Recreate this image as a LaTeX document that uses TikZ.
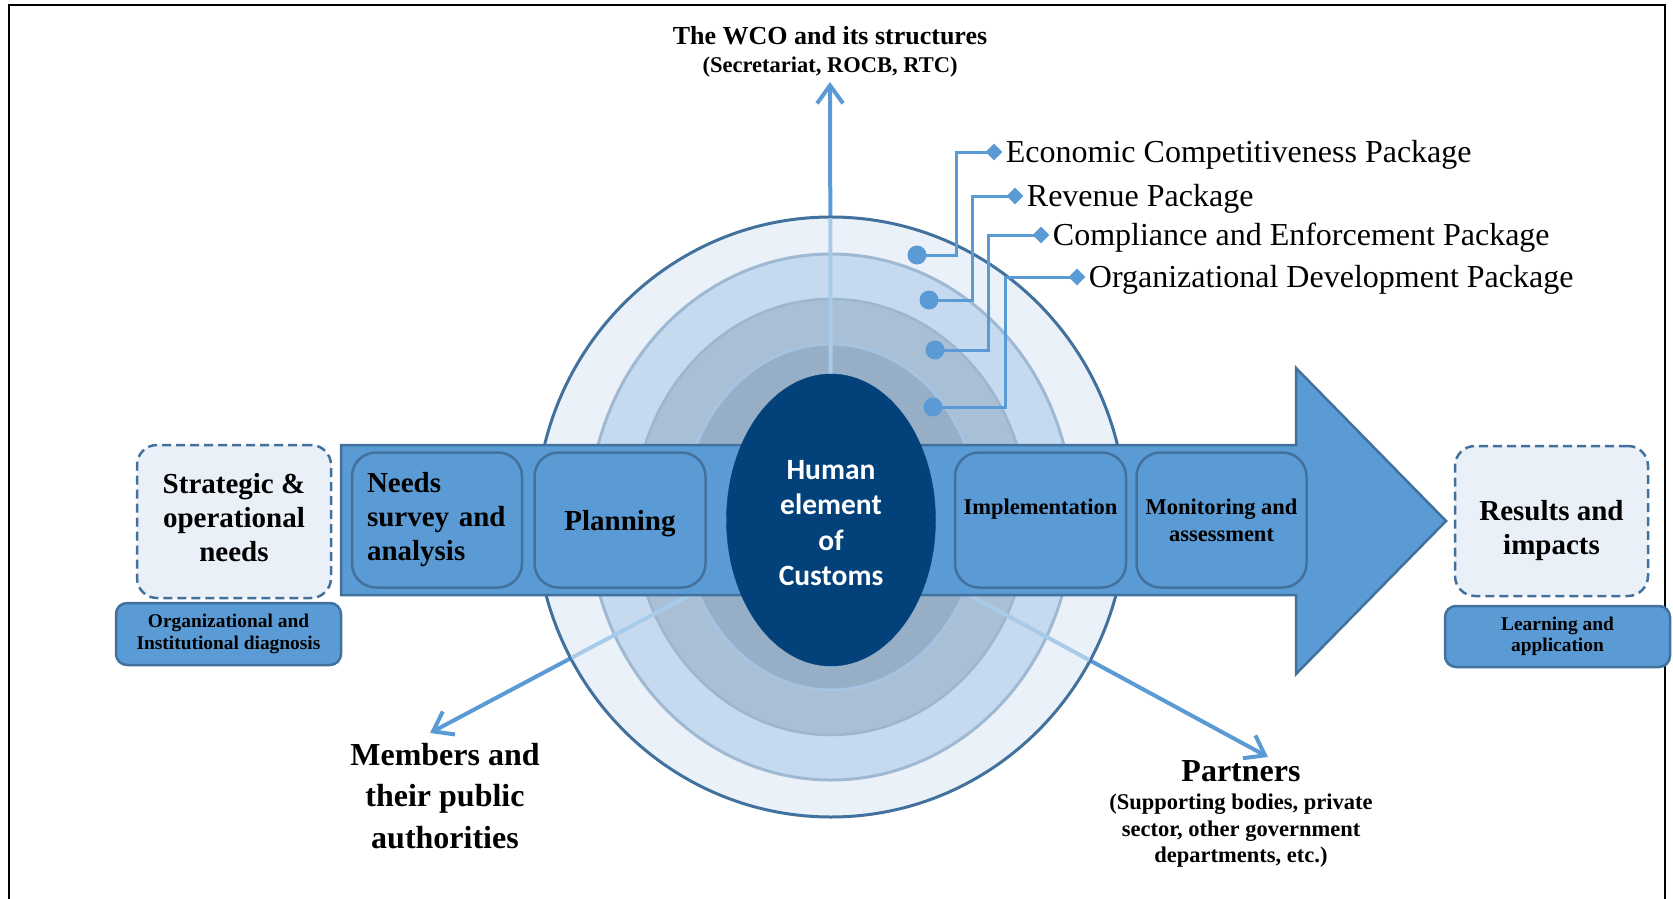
\documentclass[tikz,border=0pt]{standalone}
\usepackage{fontspec}
\setmainfont{Liberation Serif}
\newfontfamily\humanfont{Carlito}
\usetikzlibrary{calc,shapes,arrows.meta,positioning}
\pgfdeclarelayer{bg}
\pgfdeclarelayer{rings}
\pgfsetlayers{bg,rings,main}

\definecolor{bandblue}{HTML}{5B9BD5}
\definecolor{edgeblue}{HTML}{41719C}
\definecolor{paleblue}{HTML}{A9CBEA}
\definecolor{navy}{HTML}{02417A}
\definecolor{ringA}{HTML}{EAF1F9}
\definecolor{ringB}{HTML}{C5DAEE}
\definecolor{ringC}{HTML}{A9BFD6}
\definecolor{ringD}{HTML}{97AFC6}
\definecolor{ringBedge}{HTML}{9FB9D3}
\definecolor{ringCedge}{HTML}{9DB6CF}
\definecolor{ringDedge}{HTML}{A6C3E1}
\definecolor{dashfill}{HTML}{EAF0F8}

\newcommand{\bigtxt}{\fontsize{29}{34}\selectfont\bfseries}
\newcommand{\midtxt}{\fontsize{22.5}{27}\selectfont\bfseries}
\newcommand{\smalltxt}{\fontsize{19.4}{21.5}\selectfont\bfseries}
\newcommand{\pkgtxt}{\fontsize{32}{37}\selectfont}

\begin{document}
\begin{tikzpicture}[x=1pt,y=-1pt,
    stepbox/.style={draw=edgeblue,line width=2.5pt,fill=bandblue,rounded corners=24pt,minimum height=135pt,inner sep=0pt,align=center},
    dashbox/.style={draw=edgeblue,dash pattern=on 9pt off 5pt,line width=2.5pt,fill=dashfill,rounded corners=20pt,inner sep=0pt},
    tagbox/.style={draw=edgeblue,line width=2.5pt,fill=bandblue,rounded corners=11pt,inner sep=0pt,align=center,font=\smalltxt},
    pkgdot/.style={circle,fill=bandblue,minimum size=19pt,inner sep=0pt},
    pkgdiam/.style={diamond,fill=bandblue,minimum width=17pt,minimum height=17pt,inner sep=0pt},
    pkglabel/.style={font=\pkgtxt,text height=21pt,text depth=0pt,inner sep=2pt},
    pkgline/.style={draw=bandblue,line width=3pt},
    flowarrow/.style={draw=bandblue,line width=4pt,-{Straight Barb[length=18pt,width=26pt]}},
    paleflow/.style={draw=paleblue,line width=4pt}]

    \useasboundingbox (0,0) rectangle (1673,899);
    \draw[line width=2pt] (9,899) -- (9,5) -- (1665,5) -- (1665,899);

    \coordinate (ctr) at (831,517);
    \coordinate (wtip) at (830,82);
    \coordinate (mtip) at (430,733);
    \coordinate (ptip) at (1268,757);

    \draw[fill=bandblue,draw=edgeblue,line width=2.5pt] (341,445) -- (1296,445) -- (1296,368) -- (1446,521) -- (1296,674) -- (1296,595) -- (341,595) -- cycle;

    \node[stepbox,minimum width=170pt,text width=140pt,align=left,font=\bigtxt] (needs) at (437,520) {Needs\\survey and\\analysis};
    \node[stepbox,minimum width=171pt,font=\bigtxt,text depth=0pt,right=10pt of needs] (planning) {Planning};
    \node[stepbox,minimum width=171pt,font=\midtxt] (impl) at (1040.5,520) {Implementation\\~};
    \node[stepbox,minimum width=170pt,font=\midtxt,right=8pt of impl] (monit) {Monitoring and\\assessment};

    \node[ellipse,fill=navy,draw=navy,minimum width=209pt,minimum height=292pt,inner sep=0pt] (human) at (831,520) {};
    \node[text=white,align=center,font={\humanfont\bfseries\fontsize{29.5}{35.5}\selectfont}] (humantxt) at ([yshift=-3pt]human.center) {Human\\element\\of\\Customs};

    \node[dashbox,minimum width=194pt,minimum height=153pt] (strategic) at (234,521.5) {};
    \node[align=center,font=\bigtxt] (strategictxt) at ([yshift=4pt]strategic.center) {Strategic \&\\operational\\needs};
    \node[tagbox,minimum width=225pt,minimum height=62pt] (diag) at (228.5,634) {Organizational and\\Institutional diagnosis};
    \node[dashbox,minimum width=193pt,minimum height=150pt] (results) at (1551.5,521) {};
    \node[align=center,font=\bigtxt] (resultstxt) at ([yshift=-10pt]results.center) {Results and\\impacts};
    \node[tagbox,minimum width=225pt,minimum height=61pt] (learning) at (1557.5,636.5) {Learning and\\application};

    \node[anchor=base,font={\fontsize{26}{30}\selectfont\bfseries}] (wco) at (830,45) {The WCO and its structures};
    \node[anchor=base,font={\fontsize{22.5}{26}\selectfont\bfseries}] (wcosub) at (830,73) {(Secretariat, ROCB, RTC)};
    \node[align=center,font={\fontsize{32}{41.6}\selectfont\bfseries}] (members) at (445,796) {Members and\\their public\\authorities};
    \node[anchor=base,font={\fontsize{32}{38}\selectfont\bfseries}] (partners) at (1241,781) {Partners};
    \node[align=center,font={\fontsize{22.5}{26.5}\selectfont\bfseries}] (partnersub) at (1241,831) {(Supporting bodies, private\\sector, other government\\departments, etc.)};

    \node[pkgdot] (d1) at (917,255) {};
    \node[pkgdot] (d2) at (929,300) {};
    \node[pkgdot] (d3) at (935,350) {};
    \node[pkgdot] (d4) at (933,407) {};
    \node[pkgdiam] (m1) at (994,152) {};
    \node[pkgdiam] (m2) at (1015,196) {};
    \node[pkgdiam] (m3) at (1041,235) {};
    \node[pkgdiam] (m4) at (1077,277) {};
    \node[pkglabel,right=1pt of m1] (p1) {Economic Competitiveness Package};
    \node[pkglabel,right=1pt of m2] (p2) {Revenue Package};
    \node[pkglabel,right=1pt of m3] (p3) {Compliance and Enforcement Package};
    \node[pkglabel,right=1pt of m4] (p4) {Organizational Development Package};
    \draw[pkgline] (d1.center) -| ([xshift=-38pt]m1.center) -- (m1.center);
    \draw[pkgline] (d2.center) -| ([xshift=-43pt]m2.center) -- (m2.center);
    \draw[pkgline] (d3.center) -| ([xshift=-53pt]m3.center) -- (m3.center);
    \draw[pkgline] (d4.center) -| ([xshift=-72pt]m4.center) -- (m4.center);

    \begin{pgfonlayer}{bg}
        \draw[flowarrow] (human.center) -- (wtip);
        \draw[flowarrow] (human.center) -- (mtip);
        \draw[flowarrow] (human.center) -- (ptip);
    \end{pgfonlayer}

    \begin{pgfonlayer}{rings}
        \filldraw[fill=ringA,draw=edgeblue,line width=3pt] (ctr) ellipse [x radius=295,y radius=300];
        \filldraw[fill=ringB,draw=ringBedge,line width=3pt] (ctr) ellipse [x radius=242,y radius=263];
        \filldraw[fill=ringC,draw=ringCedge,line width=2.5pt] (ctr) ellipse [x radius=197,y radius=218];
        \filldraw[fill=ringD,draw=ringDedge,line width=3pt] (ctr) ellipse [x radius=148,y radius=173];
        \begin{scope}
            \clip (ctr) ellipse [x radius=294,y radius=299];
            \draw[paleflow] (human.center) -- (wtip);
            \draw[paleflow] (human.center) -- (mtip);
            \draw[paleflow] (human.center) -- (ptip);
        \end{scope}
    \end{pgfonlayer}

\end{tikzpicture}
\end{document}
